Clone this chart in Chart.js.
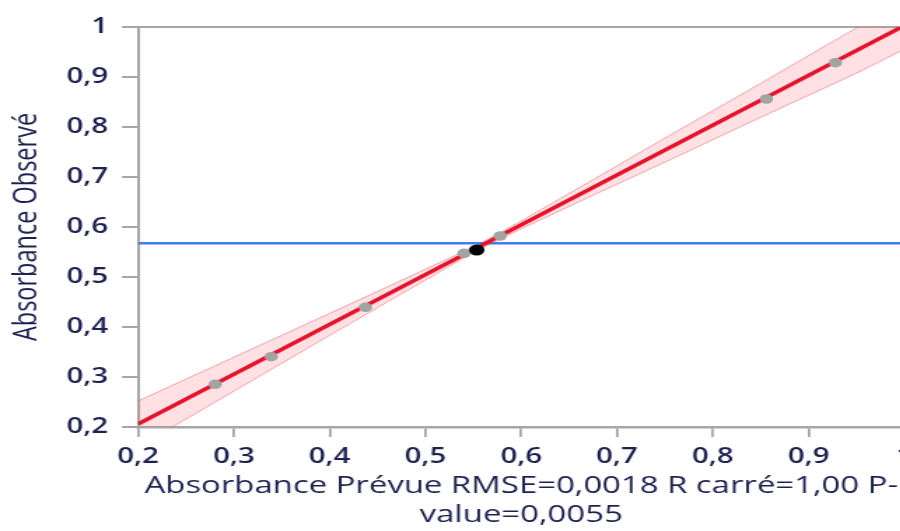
<!DOCTYPE html>
<html lang="fr">
<head>
<meta charset="utf-8">
<title>Absorbance Observé / Prévue</title>
<script src="https://cdn.jsdelivr.net/npm/chart.js@4.4.1/dist/chart.umd.min.js"></script>
<style>
  html, body { margin: 0; padding: 0; background: #fff; overflow: hidden; }
  #wrap { width: 900px; height: 531px; overflow: hidden; }
  /* the plot is drawn narrow and widened horizontally */
  #plot { display: block; transform: scaleX(1.4); transform-origin: 0 0; }
</style>
</head>
<body>
<div id="wrap"><canvas id="plot" width="659" height="531"></canvas></div>
<script>
// --- Data ---
// observed vs predicted absorbance
const predicted = [0.2805, 0.339, 0.4374, 0.5403, 0.578, 0.856, 0.928];
const observed  = [0.2854, 0.3406, 0.4394, 0.5474, 0.582, 0.856, 0.9286];
const meanPoint = [0.5536, 0.554];
const meanObserved = 0.5674;

// fitted line end points
const fitLineX = [0.2, 1.0];
const fitLineY = [0.206, 1.003];

// confidence band around the fit
const bandX     = [0.2,   0.3,    0.4,    0.5,    0.56,   0.65,   0.75,   0.85,   0.95,  1.0];
const bandUpper = [0.252, 0.3396, 0.4272, 0.5158, 0.5706, 0.6672, 0.7778, 0.8874, 0.998, 1.0498];
const bandLower = [0.160, 0.2716, 0.3832, 0.4938, 0.5586, 0.6412, 0.7298, 0.8194, 0.908, 0.9558];

const xTickLabels = ['0,2', '0,3', '0,4', '0,5', '0,6', '0,7', '0,8', '0,9', '1'];
const yTickLabels = ['0,2', '0,3', '0,4', '0,5', '0,6', '0,7', '0,8', '0,9', '1'];

const xTitle = ['Absorbance Prévue RMSE=0,0018 R carré=1,00 P-', 'value=0,0055'];
const yTitle = 'Absorbance Observé';

// --- Helpers ---
function toPoints(xs, ys) {
    return xs.map((x, i) => ({ x: x, y: ys[i] }));
}

const axisGrey = '#a6a6a6';
const labelColor = '#1d2150';
const fontFamily = '"Open Sans", "Noto Sans", sans-serif';

// --- Chart ---
const ctx = document.getElementById('plot').getContext('2d');
new Chart(ctx, {
    type: 'scatter',
    data: {
        datasets: [
            {
                // mean point
                data: [{ x: meanPoint[0], y: meanPoint[1] }],
                backgroundColor: '#000000',
                borderColor: '#000000',
                pointRadius: 5.5,
                pointBorderWidth: 0
            },
            {
                data: toPoints(predicted, observed),
                backgroundColor: '#a3a3a3',
                borderColor: '#a3a3a3',
                pointRadius: 4.8,
                pointBorderWidth: 0
            },
            {
                data: toPoints(fitLineX, fitLineY),
                showLine: true,
                borderColor: '#e8122b',
                borderWidth: 3.5,
                pointRadius: 0
            },
            {
                data: toPoints(fitLineX, [meanObserved, meanObserved]),
                showLine: true,
                borderColor: '#3f7df0',
                borderWidth: 2.4,
                pointRadius: 0
            },
            {
                data: toPoints(bandX, bandUpper),
                showLine: true,
                borderColor: 'rgba(238, 90, 100, 0.55)',
                borderWidth: 1,
                backgroundColor: 'rgba(255, 105, 120, 0.2)',
                fill: '+1',
                tension: 0.4,
                pointRadius: 0
            },
            {
                data: toPoints(bandX, bandLower),
                showLine: true,
                borderColor: 'rgba(238, 90, 100, 0.55)',
                borderWidth: 1,
                tension: 0.4,
                pointRadius: 0
            }
        ]
    },
    options: {
        responsive: false,
        animation: false,
        events: [],
        layout: { padding: { top: 27, right: 7, bottom: 2, left: 0 } },
        plugins: {
            legend: { display: false },
            tooltip: { enabled: false }
        },
        scales: {
            x: {
                type: 'linear',
                position: 'bottom',
                min: 0.2,
                max: 1,
                afterFit: (s) => { s.height = 102; },
                ticks: {
                    stepSize: 0.1,
                    autoSkip: false,
                    maxRotation: 0,
                    padding: 7,
                    color: labelColor,
                    font: { family: fontFamily, size: 21, weight: '600' },
                    callback: (v, i) => xTickLabels[i]
                },
                grid: {
                    drawOnChartArea: false,
                    drawTicks: true,
                    tickLength: 10,
                    color: axisGrey,
                    lineWidth: 1.8
                },
                border: { display: true, color: axisGrey, width: 2.5 },
                title: {
                    display: true,
                    text: xTitle,
                    color: labelColor,
                    font: { family: fontFamily, size: 23.5, weight: '500', lineHeight: 1.2 },
                    padding: { top: 0, bottom: 0 }
                }
            },
            xTop: {
                type: 'linear',
                position: 'top',
                min: 0.2,
                max: 1,
                afterFit: (s) => { s.height = 0; },
                ticks: { display: false },
                grid: { display: false, drawTicks: false },
                border: { display: true, color: axisGrey, width: 2 }
            },
            y: {
                type: 'linear',
                min: 0.2,
                max: 1,
                afterFit: (s) => { s.width = 98.6; },
                ticks: {
                    stepSize: 0.1,
                    autoSkip: false,
                    padding: 10,
                    color: labelColor,
                    font: { family: fontFamily, size: 21, weight: '600' },
                    callback: (v, i) => yTickLabels[i]
                },
                grid: {
                    drawOnChartArea: false,
                    drawTicks: true,
                    tickLength: 11.4,
                    color: axisGrey,
                    lineWidth: 2
                },
                border: { display: true, color: axisGrey, width: 2 },
                title: {
                    display: true,
                    text: yTitle,
                    color: labelColor,
                    font: { family: fontFamily, size: 23.5 },
                    padding: { top: 5, bottom: 0 }
                }
            }
        }
    }
});
</script>
</body>
</html>
